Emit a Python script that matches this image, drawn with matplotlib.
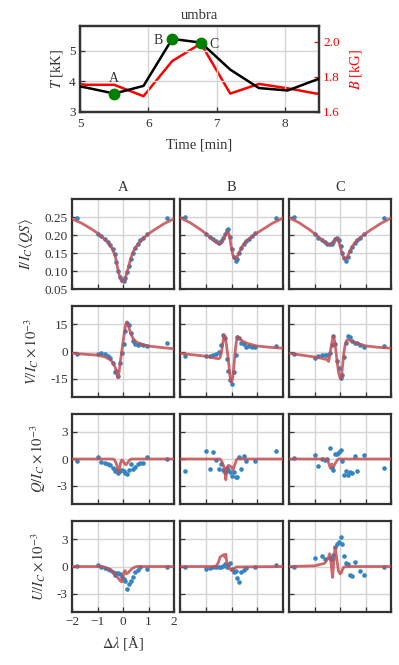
import numpy as np
import matplotlib
matplotlib.use("Agg")
import matplotlib.pyplot as plt

plt.rcParams['font.family'] = ['Liberation Serif', 'DejaVu Serif']
plt.rcParams['mathtext.fontset'] = 'stix'
plt.rcParams['axes.unicode_minus'] = True

GREY = '#333333'
BLUE = '#3285c2'
RED = '#c44e52'

# ---------------- top panel data ----------------
times = [4.66, 5.08, 5.50, 5.93, 6.35, 6.77, 7.20, 7.62, 8.04, 8.46, 8.89]
temp_kK = [3.95, 3.80, 3.60, 3.85, 5.38, 5.26, 4.38, 3.78, 3.70, 4.05, 4.35]
field_kG = [1.78, 1.755, 1.755, 1.69, 1.89, 1.99, 1.705, 1.76, 1.735, 1.705, 1.69]
marked_idx = [2, 4, 5]
marked_names = ['A', 'B', 'C']

# ---------------- profile panels ----------------
wl = [-1.80, -1.00, -0.85, -0.72, -0.60, -0.50, -0.41, -0.33, -0.26, -0.19, -0.12,
      -0.05, 0.02, 0.09, 0.16, 0.23, 0.30, 0.38, 0.47, 0.57, 0.68, 0.80, 0.93, 1.73]
nan = np.nan

# Stokes I observed
I_A = [0.248, 0.204, 0.198, 0.190, 0.181, 0.171, 0.160, 0.147, 0.125, 0.100, 0.084, 0.074,
       0.073, 0.081, 0.096, 0.115, 0.134, 0.150, 0.163, 0.175, 0.185, 0.191, 0.203, 0.248]
I_B = [0.250, 0.202, 0.195, 0.188, 0.182, 0.178, 0.182, 0.193, 0.203, 0.214, 0.217, 0.195,
       0.160, 0.140, 0.128, 0.133, 0.150, 0.163, 0.175, 0.183, 0.190, 0.197, 0.205, 0.248]
I_C = [0.249, 0.202, 0.193, 0.187, 0.181, 0.176, 0.174, 0.175, 0.181, 0.190, 0.192, 0.187,
       0.170, 0.150, 0.135, 0.128, 0.140, 0.155, 0.168, 0.178, 0.186, 0.193, 0.202, 0.248]
# Stokes V observed (x1e-3)
V_A = [-1.5, -1.5, -1.0, -1.5, -2.2, -3.8, -6.5, -11.0, -10.5, -13.7, -6.5, -1.0,
       4.0, 11.0, 15.5, 14.5, 10.0, 5.5, 4.0, 3.7, 4.0, 3.5, 3.1, 4.6]
V_B = [-2.4, -2.4, -2.2, -2.0, -1.5, -0.5, 3.7, 9.0, 7.3, -4.0, -10.5, -15.5,
       -17.6, -11.0, -2.0, 7.8, 7.3, 4.6, 4.0, 2.7, 3.1, 2.5, 2.2, 3.1]
V_C = [-1.5, -3.7, -2.5, -1.8, -1.8, -2.0, -1.0, 3.7, 8.6, 4.0, -5.0, -9.0,
       -14.6, -12.8, -3.0, 4.6, 8.6, 7.8, 5.5, 4.6, 4.6, 3.5, 2.7, 3.1]
# Stokes Q observed (x1e-3)
Q_A = [-0.2, 0.25, -0.3, -0.45, -0.55, -0.7, -0.95, -1.3, -1.2, -1.5, -1.35, -1.2,
       -1.3, -1.5, -1.65, -1.2, -0.6, -1.15, -0.9, -0.5, -0.4, -0.4, 0.2, -0.05]
Q_B = [-1.3, 0.9, -1.1, 0.75, -0.1, -1.1, -0.5, -1.2, -1.4, -1.0, -1.2, -1.4,
       -1.9, -1.4, -2.0, -2.0, 0.2, -1.1, 0.35, -0.2, nan, nan, -0.2, 0.9]
Q_C = [0.15, 0.5, -0.75, 0.05, -0.1, 0.05, 1.25, -1.0, -1.2, 0.55, 0.55, 0.8,
       1.05, -0.2, -1.75, -1.3, -1.75, -1.4, -1.55, 0.35, -1.3, nan, 0.5, -0.95]
# Stokes U observed (x1e-3)
U_A = [0.1, 0.2, -0.05, -0.15, -0.25, -0.35, -0.6, -0.9, -0.75, -0.75, -0.8, -1.1,
       -1.35, -1.6, -2.45, -1.9, -1.55, -1.2, -0.6, -0.35, -0.07, nan, -0.25, 0.0]
U_B = [0.0, -0.25, -0.18, -0.07, -0.05, 0.0, 0.0, 0.1, 0.3, 0.0, 0.2, 0.37,
       -0.25, -0.6, -0.5, -1.3, -1.65, -0.55, -0.37, -0.18, nan, nan, 0.0, 0.2]
U_C = [0.0, 0.95, nan, 1.15, 0.8, nan, 0.95, 0.85, 1.3, 2.1, 2.5, 2.7,
       3.25, 2.5, 1.1, 0.37, 0.3, -0.9, -1.0, 0.5, nan, -0.5, -0.9, 0.0]

# Fitted profiles
fit_I_A_x = [-2.0, -1.6, -1.2, -1.0, -0.8, -0.6, -0.5, -0.4, -0.3, -0.2, -0.15, -0.1, -0.05, 0.0,
             0.05, 0.1, 0.15, 0.2, 0.3, 0.4, 0.5, 0.6, 0.8, 1.0, 1.2, 1.6, 2.0]
fit_I_A = [0.245, 0.232, 0.215, 0.205, 0.193, 0.180, 0.171, 0.159, 0.140, 0.105, 0.090, 0.078,
           0.071, 0.070, 0.074, 0.082, 0.094, 0.107, 0.134, 0.153, 0.166, 0.176, 0.191, 0.203,
           0.213, 0.231, 0.245]
fit_I_B_x = [-2.0, -1.6, -1.2, -1.0, -0.8, -0.6, -0.5, -0.4, -0.3, -0.2, -0.15, -0.1, -0.05, 0.0,
             0.05, 0.1, 0.15, 0.2, 0.3, 0.4, 0.5, 0.6, 0.8, 1.0, 1.2, 1.6, 2.0]
fit_I_B = [0.248, 0.234, 0.215, 0.204, 0.192, 0.180, 0.175, 0.177, 0.190, 0.206, 0.210, 0.203,
           0.185, 0.162, 0.145, 0.136, 0.133, 0.137, 0.152, 0.166, 0.177, 0.185, 0.196, 0.206,
           0.215, 0.233, 0.247]
fit_I_C_x = [-2.0, -1.6, -1.2, -1.0, -0.8, -0.6, -0.5, -0.4, -0.3, -0.2, -0.15, -0.1, -0.05, 0.0,
             0.05, 0.1, 0.15, 0.2, 0.25, 0.3, 0.4, 0.5, 0.6, 0.8, 1.0, 1.2, 1.6, 2.0]
fit_I_C = [0.248, 0.234, 0.215, 0.204, 0.192, 0.181, 0.176, 0.172, 0.176, 0.187, 0.191, 0.190,
           0.182, 0.170, 0.157, 0.146, 0.137, 0.133, 0.134, 0.141, 0.157, 0.170, 0.180, 0.193,
           0.204, 0.214, 0.232, 0.247]

fit_V_A_x = [-2.0, -1.5, -1.0, -0.7, -0.5, -0.4, -0.3, -0.25, -0.2, -0.15, -0.1, -0.05, 0.0,
             0.05, 0.1, 0.15, 0.2, 0.3, 0.4, 0.5, 0.7, 1.0, 1.5, 2.0]
fit_V_A = [-1.0, -1.5, -2.0, -3.0, -4.5, -6.0, -9.0, -12.0, -14.5, -11.0, -5.0, 0.0, 5.0,
           10.0, 14.5, 16.3, 14.5, 10.0, 7.0, 5.5, 4.0, 3.0, 2.2, 1.5]
fit_V_B_x = [-2.0, -1.5, -1.0, -0.7, -0.5, -0.45, -0.4, -0.35, -0.3, -0.25, -0.2, -0.15, -0.1,
             -0.05, 0.0, 0.05, 0.1, 0.15, 0.2, 0.25, 0.3, 0.4, 0.6, 1.0, 1.5, 2.0]
fit_V_B = [-1.0, -1.8, -2.6, -3.5, -4.0, -3.5, -1.0, 3.0, 9.0, 8.5, 4.0, -1.5, -7.5,
           -14.5, -17.0, -14.0, -7.0, 1.0, 6.5, 8.2, 7.5, 6.0, 4.5, 3.0, 2.3, 1.8]
fit_V_C_x = [-2.0, -1.5, -1.0, -0.7, -0.5, -0.45, -0.42, -0.38, -0.33, -0.28, -0.25, -0.2, -0.15,
             -0.1, -0.05, 0.0, 0.05, 0.1, 0.15, 0.2, 0.25, 0.3, 0.4, 0.6, 1.0, 1.5, 2.0]
fit_V_C = [-1.0, -2.0, -3.0, -3.8, -4.5, -5.5, -4.0, 0.0, 4.0, 7.5, 8.5, 5.0, -1.0,
           -7.0, -12.0, -14.5, -15.0, -8.0, -1.0, 3.5, 5.8, 6.5, 6.0, 4.8, 3.1, 2.3, 1.8]

fit_Q_A_x = [-2.0, -0.4, -0.33, -0.28, -0.24, -0.2, -0.17, -0.14, -0.1, -0.05, 0.0, 0.05, 0.1,
             0.15, 0.22, 0.3, 0.35, 2.0]
fit_Q_A = [0, 0, -0.1, -0.4, -0.7, -1.2, -1.5, -1.1, -0.5, -0.1, -0.2, -0.45, -0.65,
           -0.55, -0.25, -0.03, 0, 0]
fit_Q_B_x = [-2.0, -0.45, -0.39, -0.3, -0.25, -0.22, -0.18, -0.12, -0.05, 0.0, 0.06, 0.12, 0.18,
             0.22, 2.0]
fit_Q_B = [0, 0, -0.2, -0.8, -1.6, -2.3, -1.0, -0.7, -0.8, -0.9, -1.2, -0.7, -0.2, 0, 0]
fit_Q_C_x = [-2.0, -0.55, -0.5, -0.45, -0.38, -0.32, -0.25, -0.19, -0.1, -0.05, 2.0]
fit_Q_C = [0, 0, -0.05, -0.4, -1.0, -0.55, -0.85, -0.5, -0.1, 0, 0]

fit_U_A_x = [-2.0, -0.8, -0.65, -0.5, -0.39, -0.3, -0.2, -0.1, -0.05, 0.0, 0.04, 0.08, 0.13,
             0.2, 0.26, 0.35, 0.46, 0.55, 2.0]
fit_U_A = [0, 0, -0.15, -0.35, -0.6, -0.9, -1.25, -1.6, -1.7, -1.1, -0.6, -0.45, -0.8,
           -0.7, -0.5, -0.25, -0.07, 0, 0]
fit_U_B_x = [-2.0, -0.65, -0.58, -0.5, -0.45, -0.39, -0.3, -0.25, -0.22, -0.19, -0.14, -0.09,
             0.0, 0.09, 0.19, 2.0]
fit_U_B = [0, 0, 0.1, 0.5, 1.0, 1.15, 1.3, 1.0, 1.35, 0.6, 0.1, -0.2, -0.45, -0.25, -0.05, 0]
fit_U_C_x = [-2.0, -1.0, -0.6, -0.45, -0.41, -0.36, -0.32, -0.29, -0.25, -0.21, -0.19, -0.15,
             -0.1, -0.06, 0.0, 0.05, 0.1, 0.15, 0.25, 2.0]
fit_U_C = [0, 0.07, 0.35, 1.0, 1.4, 0.6, -0.5, -1.2, 0.3, 1.6, 2.1, 1.4, 0.3, -0.5, -0.8,
           -0.7, -0.3, -0.07, 0, 0]

columns = ['A', 'B', 'C']
row_labels = [r'$I/I_C\langle QS\rangle$', r'$V/I_C\times10^{-3}$',
              r'$Q/I_C\times10^{-3}$', r'$U/I_C\times10^{-3}$']
obs = [[I_A, I_B, I_C], [V_A, V_B, V_C], [Q_A, Q_B, Q_C], [U_A, U_B, U_C]]
fits = [[(fit_I_A_x, fit_I_A), (fit_I_B_x, fit_I_B), (fit_I_C_x, fit_I_C)],
        [(fit_V_A_x, fit_V_A), (fit_V_B_x, fit_V_B), (fit_V_C_x, fit_V_C)],
        [(fit_Q_A_x, fit_Q_A), (fit_Q_B_x, fit_Q_B), (fit_Q_C_x, fit_Q_C)],
        [(fit_U_A_x, fit_U_A), (fit_U_B_x, fit_U_B), (fit_U_C_x, fit_U_C)]]
ylims = [(0.05, 0.30), (-25, 25), (-5, 5), (-5, 5)]
yticks = [[0.05, 0.10, 0.15, 0.20, 0.25], [-15, 0, 15], [-3, 0, 3], [-3, 0, 3]]
ytick_fmt = ['{:.2f}', '{:g}', '{:g}', '{:g}']
xticks = [-2, -1, 0, 1, 2]

W, H = 399, 665
fig = plt.figure(figsize=(W / 100, H / 100), dpi=100)


def px_axes(x0, y0, x1, y1):
    return fig.add_axes([x0 / W, 1 - y1 / H, (x1 - x0) / W, (y1 - y0) / H])


def style(ax):
    for s in ax.spines.values():
        s.set_color(GREY)
        s.set_linewidth(1.6)
    ax.tick_params(direction='in', length=3.5, width=0.9, color=GREY,
                   labelcolor=GREY, labelsize=9.5, pad=3)
    ax.grid(True, color='#d4d4d4', lw=1.0)
    ax.set_axisbelow(True)


# ---------------- top plot ----------------
ax = px_axes(80, 26, 319, 112)
style(ax)
ax.plot(times, temp_kK, color='black', lw=1.8, zorder=3)
ax.set_xlim(5, 8.5)
ax.set_ylim(3, 5.8)
ax.set_xticks([5, 6, 7, 8])
ax.set_yticks([3, 4, 5])
ax.tick_params(axis='x', pad=4.5)
ax.set_xlabel('Time [min]', fontsize=10.5, color=GREY, labelpad=6)
ax.set_ylabel(r'$T$ [kK]', fontsize=10.5, color=GREY, labelpad=3)
ax.set_title('umbra', fontsize=10.5, color=GREY, pad=5)
ax.tick_params(axis='y', right=False)
ax2 = ax.twinx()
ax2.plot(times, field_kG, color='red', lw=1.8, zorder=2)
ax2.set_ylim(1.6, 2.09)
ax2.set_yticks([1.6, 1.8, 2.0])
ax2.set_yticklabels(['1.6', '1.8', '2.0'])
for s in ax2.spines.values():
    s.set_color(GREY)
    s.set_linewidth(1.6)
ax2.tick_params(direction='in', length=3.5, width=0.9, color='red',
                labelcolor='red', labelsize=9.5, pad=3)
ax2.set_ylabel(r'$B$ [kG]', fontsize=10.5, color='red', labelpad=6)
ax.set_zorder(ax2.get_zorder() + 1)
ax.patch.set_visible(False)
for i, name in zip(marked_idx, marked_names):
    ax.plot(times[i], temp_kK[i], 'o', color='green', ms=7.5, zorder=5, clip_on=False)
ax.text(times[2], temp_kK[2] + 0.27, 'A', ha='center', va='bottom', fontsize=10, color=GREY)
ax.text(times[4] - 0.14, temp_kK[4] - 0.05, 'B', ha='right', va='center', fontsize=10, color=GREY)
ax.text(times[5] + 0.13, temp_kK[5] - 0.05, 'C', ha='left', va='center', fontsize=10, color=GREY)

# ---------------- profile grid ----------------
col_px = [(72, 174), (180, 283), (289, 391)]
row_px = [(199, 289), (306, 397), (414, 504), (521, 612)]

for r in range(4):
    for c in range(3):
        x0, x1 = col_px[c]
        y0, y1 = row_px[r]
        a = px_axes(x0, y0, x1, y1)
        style(a)
        fx, fy = fits[r][c]
        a.plot(wl, obs[r][c], 'o', color=BLUE, ms=3.3, mew=0, zorder=3)
        a.plot(fx, fy, color=RED, lw=2.0, alpha=0.85, zorder=4)
        a.set_xlim(-2, 2)
        a.set_ylim(*ylims[r])
        a.set_xticks(xticks)
        a.set_yticks(yticks[r])
        if c == 0:
            a.set_yticklabels([ytick_fmt[r].format(v) for v in yticks[r]])
            a.set_ylabel(row_labels[r], fontsize=10.5, color=GREY, labelpad=6.5)
        else:
            a.set_yticklabels([])
        if r == 3 and c == 0:
            a.set_xticklabels(['\u22122', '\u22121', '0', '1', '2'])
            a.set_xlabel(r'$\Delta\lambda$ [Å]', fontsize=10.5, color=GREY, labelpad=4)
        else:
            a.set_xticklabels([])
        if r == 0:
            a.set_title(columns[c], fontsize=10.5, color=GREY, pad=6)

fig.savefig('out.png', dpi=100)
